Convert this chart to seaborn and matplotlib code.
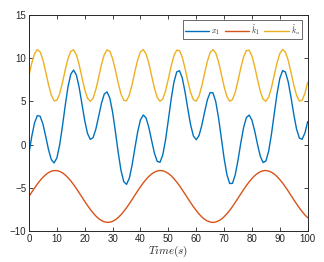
import numpy as np
import pandas as pd
import matplotlib
matplotlib.use("Agg")
import matplotlib.pyplot as plt
import seaborn as sns

# time samples (s)
time = list(range(0, 101))

# x_1 (blue)
x1 = [-1.00, 0.96, 2.53, 3.36, 3.28, 2.38, 0.94, -0.58, -1.73, -2.12,
      -1.55, -0.04, 2.13, 4.54, 6.70, 8.16, 8.63, 8.05, 6.62, 4.70,
      2.77, 1.29, 0.60, 0.81, 1.81, 3.29, 4.78, 5.85, 6.10, 5.38,
      3.75, 1.51, -0.90, -2.97, -4.29, -4.60, -3.88, -2.35, -0.40, 1.49,
      2.87, 3.43, 3.09, 1.98, 0.47, -0.99, -1.94, -2.05, -1.19, 0.56,
      2.86, 5.24, 7.23, 8.41, 8.56, 7.71, 6.07, 4.10, 2.26, 0.99,
      0.57, 1.04, 2.23, 3.76, 5.19, 6.02, 5.99, 4.97, 3.12, 0.78,
      -1.58, -3.46, -4.50, -4.49, -3.49, -1.78, 0.20, 1.98, 3.13, 3.42,
      2.82, 1.55, 0.01, -1.36, -2.08, -1.90, -0.74, 1.21, 3.59, 5.90,
      7.68, 8.57, 8.40, 7.27, 5.49, 3.51, 1.80, 0.76, 0.62, 1.34,
      2.67]

# k_1 hat (orange)
k1 = [-6.00, -5.50, -5.02, -4.56, -4.14, -3.78, -3.48, -3.24, -3.08, -3.01,
      -3.01, -3.10, -3.27, -3.52, -3.83, -4.20, -4.63, -5.09, -5.58, -6.08,
      -6.57, -7.05, -7.50, -7.91, -8.27, -8.57, -8.79, -8.93, -9.00, -8.98,
      -8.88, -8.70, -8.44, -8.12, -7.73, -7.31, -6.84, -6.35, -5.85, -5.35,
      -4.88, -4.43, -4.03, -3.68, -3.40, -3.19, -3.05, -3.00, -3.03, -3.15,
      -3.34, -3.60, -3.94, -4.33, -4.76, -5.24, -5.73, -6.23, -6.72, -7.19,
      -7.63, -8.03, -8.37, -8.64, -8.84, -8.96, -9.00, -8.96, -8.83, -8.63,
      -8.35, -8.01, -7.61, -7.17, -6.69, -6.20, -5.70, -5.21, -4.74, -4.31,
      -3.92, -3.59, -3.33, -3.14, -3.03, -3.00, -3.06, -3.20, -3.41, -3.70,
      -4.05, -4.45, -4.90, -5.38, -5.88, -6.38, -6.86, -7.33, -7.76, -8.14,
      -8.46]

# k_u hat (yellow)
ku = [8.00, 9.44, 10.52, 10.99, 10.73, 9.80, 8.42, 6.95, 5.73, 5.07,
      5.12, 5.88, 7.16, 8.65, 9.97, 10.81, 10.97, 10.40, 9.24, 7.77,
      6.37, 5.36, 5.00, 5.37, 6.39, 7.80, 9.26, 10.41, 10.97, 10.80,
      9.95, 8.62, 7.14, 5.86, 5.12, 5.07, 5.75, 6.97, 8.45, 9.82,
      10.74, 10.99, 10.51, 9.41, 7.97, 6.54, 5.46, 5.01, 5.28, 6.23,
      7.60, 9.08, 10.29, 10.94, 10.87, 10.11, 8.81, 7.33, 6.01, 5.18,
      5.04, 5.62, 6.79, 8.25, 9.65, 10.65, 11.00, 10.61, 9.59, 8.17,
      6.72, 5.57, 5.02, 5.21, 6.07, 7.41, 8.89, 10.15, 10.89, 10.92,
      10.24, 9.00, 7.52, 6.16, 5.25, 5.01, 5.50, 6.61, 8.05, 9.48,
      10.55, 11.00, 10.71, 9.75, 8.37, 6.90, 5.70, 5.05, 5.14, 5.92,
      7.21]

labels = [r"$x_1$", r"$\hat{k}_1$", r"$\hat{k}_u$"]
colors = ["#0072BD", "#D95319", "#EDB120"]

sns.set_style("ticks")
plt.rcParams['font.family'] = ['Liberation Sans', 'DejaVu Sans']
plt.rcParams['mathtext.fontset'] = 'cm'

fig = plt.figure(figsize=(3.24, 2.62), dpi=100)
ax = fig.add_axes([0.0895, 0.1183, 0.8602, 0.8244])

for series, lab, col in zip([x1, k1, ku], labels, colors):
    sns.lineplot(x=time, y=series, ax=ax, color=col, linewidth=1.0, label=lab)

ax.set_xlim(0, 100)
ax.set_ylim(-10, 15)
ax.set_xticks(np.arange(0, 101, 10))
ax.set_yticks(np.arange(-10, 16, 5))
ax.tick_params(direction='in', length=3, width=0.6, labelsize=7, top=True, right=True, pad=2)
for sp in ax.spines.values():
    sp.set_visible(True)
    sp.set_linewidth(0.7)
    sp.set_color('#262626')
ax.set_xlabel(r"$Time(s)$", fontsize=8, labelpad=0)
ax.set_ylabel("")

leg = ax.legend(loc='upper right', ncol=3, fontsize=5.5, frameon=True, fancybox=False,
                handlelength=3.2, handletextpad=0.3, columnspacing=0.6,
                borderpad=0.25, borderaxespad=0.7)
leg.get_frame().set_edgecolor('#262626')
leg.get_frame().set_linewidth(0.6)

fig.savefig("out.png", dpi=100)
